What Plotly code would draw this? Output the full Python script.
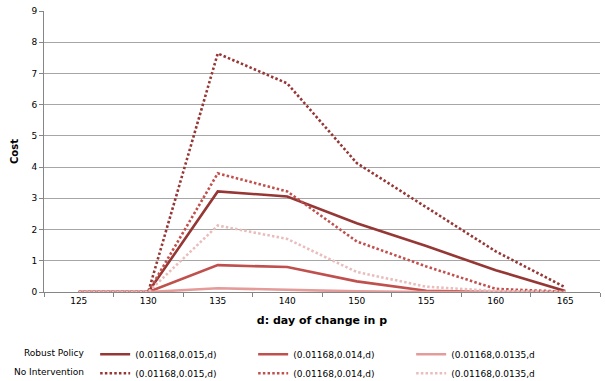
import plotly.graph_objects as go

days = ["125", "130", "135", "140", "150", "155", "160", "165"]

robust_0150 = [0, 0, 3.22, 3.06, 2.20, 1.47, 0.70, 0.03]
robust_0140 = [0, 0, 0.86, 0.80, 0.34, 0.04, 0.0, 0.0]
robust_0135 = [0, 0, 0.12, 0.06, 0.02, 0.0, 0.0, 0.0]
noint_0150 = [0, 0, 7.64, 6.68, 4.13, 2.72, 1.30, 0.15]
noint_0140 = [0, 0, 3.80, 3.22, 1.62, 0.82, 0.10, 0.01]
noint_0135 = [0, 0, 2.13, 1.70, 0.64, 0.17, 0.03, 0.0]

labels = ["(0.01168,0.015,d)", "(0.01168,0.014,d)", "(0.01168,0.0135,d"]
row_labels = ["Robust Policy", "No Intervention"]

dark = "#953735"
mid = "#C0504D"
light = "#E39C9A"
light_dot = "#E8BDBC"

FONT = "DejaVu Sans"

fig = go.Figure()
series = [
    (robust_0150, labels[0], dark, "solid"),
    (robust_0140, labels[1], mid, "solid"),
    (robust_0135, labels[2], light, "solid"),
    (noint_0150, labels[0], dark, "2.5px,2.2px"),
    (noint_0140, labels[1], mid, "2.5px,2.2px"),
    (noint_0135, labels[2], light_dot, "2.5px,2.2px"),
]
for vals, name, col, dash in series:
    fig.add_trace(go.Scatter(
        x=days, y=vals, mode="lines", name=name,
        line=dict(color=col, width=2.6, dash=dash),
    ))

fig.update_layout(
    width=605, height=381,
    margin=dict(l=44, r=5, t=11, b=89, autoexpand=False),
    paper_bgcolor="white", plot_bgcolor="white",
    font=dict(family=FONT, size=9, color="#000"),
    showlegend=True,
    legend=dict(
        orientation="h", x=0.092, y=-0.17, xanchor="left", yanchor="top",
        entrywidth=113, entrywidthmode="pixels", itemwidth=30,
        tracegroupgap=0, font=dict(family=FONT, size=9),
        traceorder="normal",
    ),
    xaxis=dict(
        type="category", range=[-0.5, 7.5], showgrid=False,
        showline=True, linecolor="#868686", linewidth=1,
        ticks="outside", tickson="boundaries", ticklen=4, tickcolor="#868686",
        title=dict(text="<b>d: day of change in p</b>", font=dict(size=11, family=FONT), standoff=11),
    ),
    yaxis=dict(
        range=[0, 9], dtick=1, showgrid=True, gridcolor="#A6A6A6", gridwidth=1,
        showline=True, linecolor="#868686", linewidth=1,
        ticks="outside", ticklen=4, tickcolor="#868686",
        zeroline=False,
        title=dict(text="<b>Cost</b>", font=dict(size=10, family=FONT), standoff=10),
    ),
)

for i, t in enumerate(row_labels):
    fig.add_annotation(
        text=t, xref="paper", yref="paper",
        x=(86 - 44) / 556, y=(292.3 - (353 + 19 * i)) / 281.3,
        xanchor="right", yanchor="middle", showarrow=False,
        font=dict(family=FONT, size=9),
    )

fig.write_html("out.html")
